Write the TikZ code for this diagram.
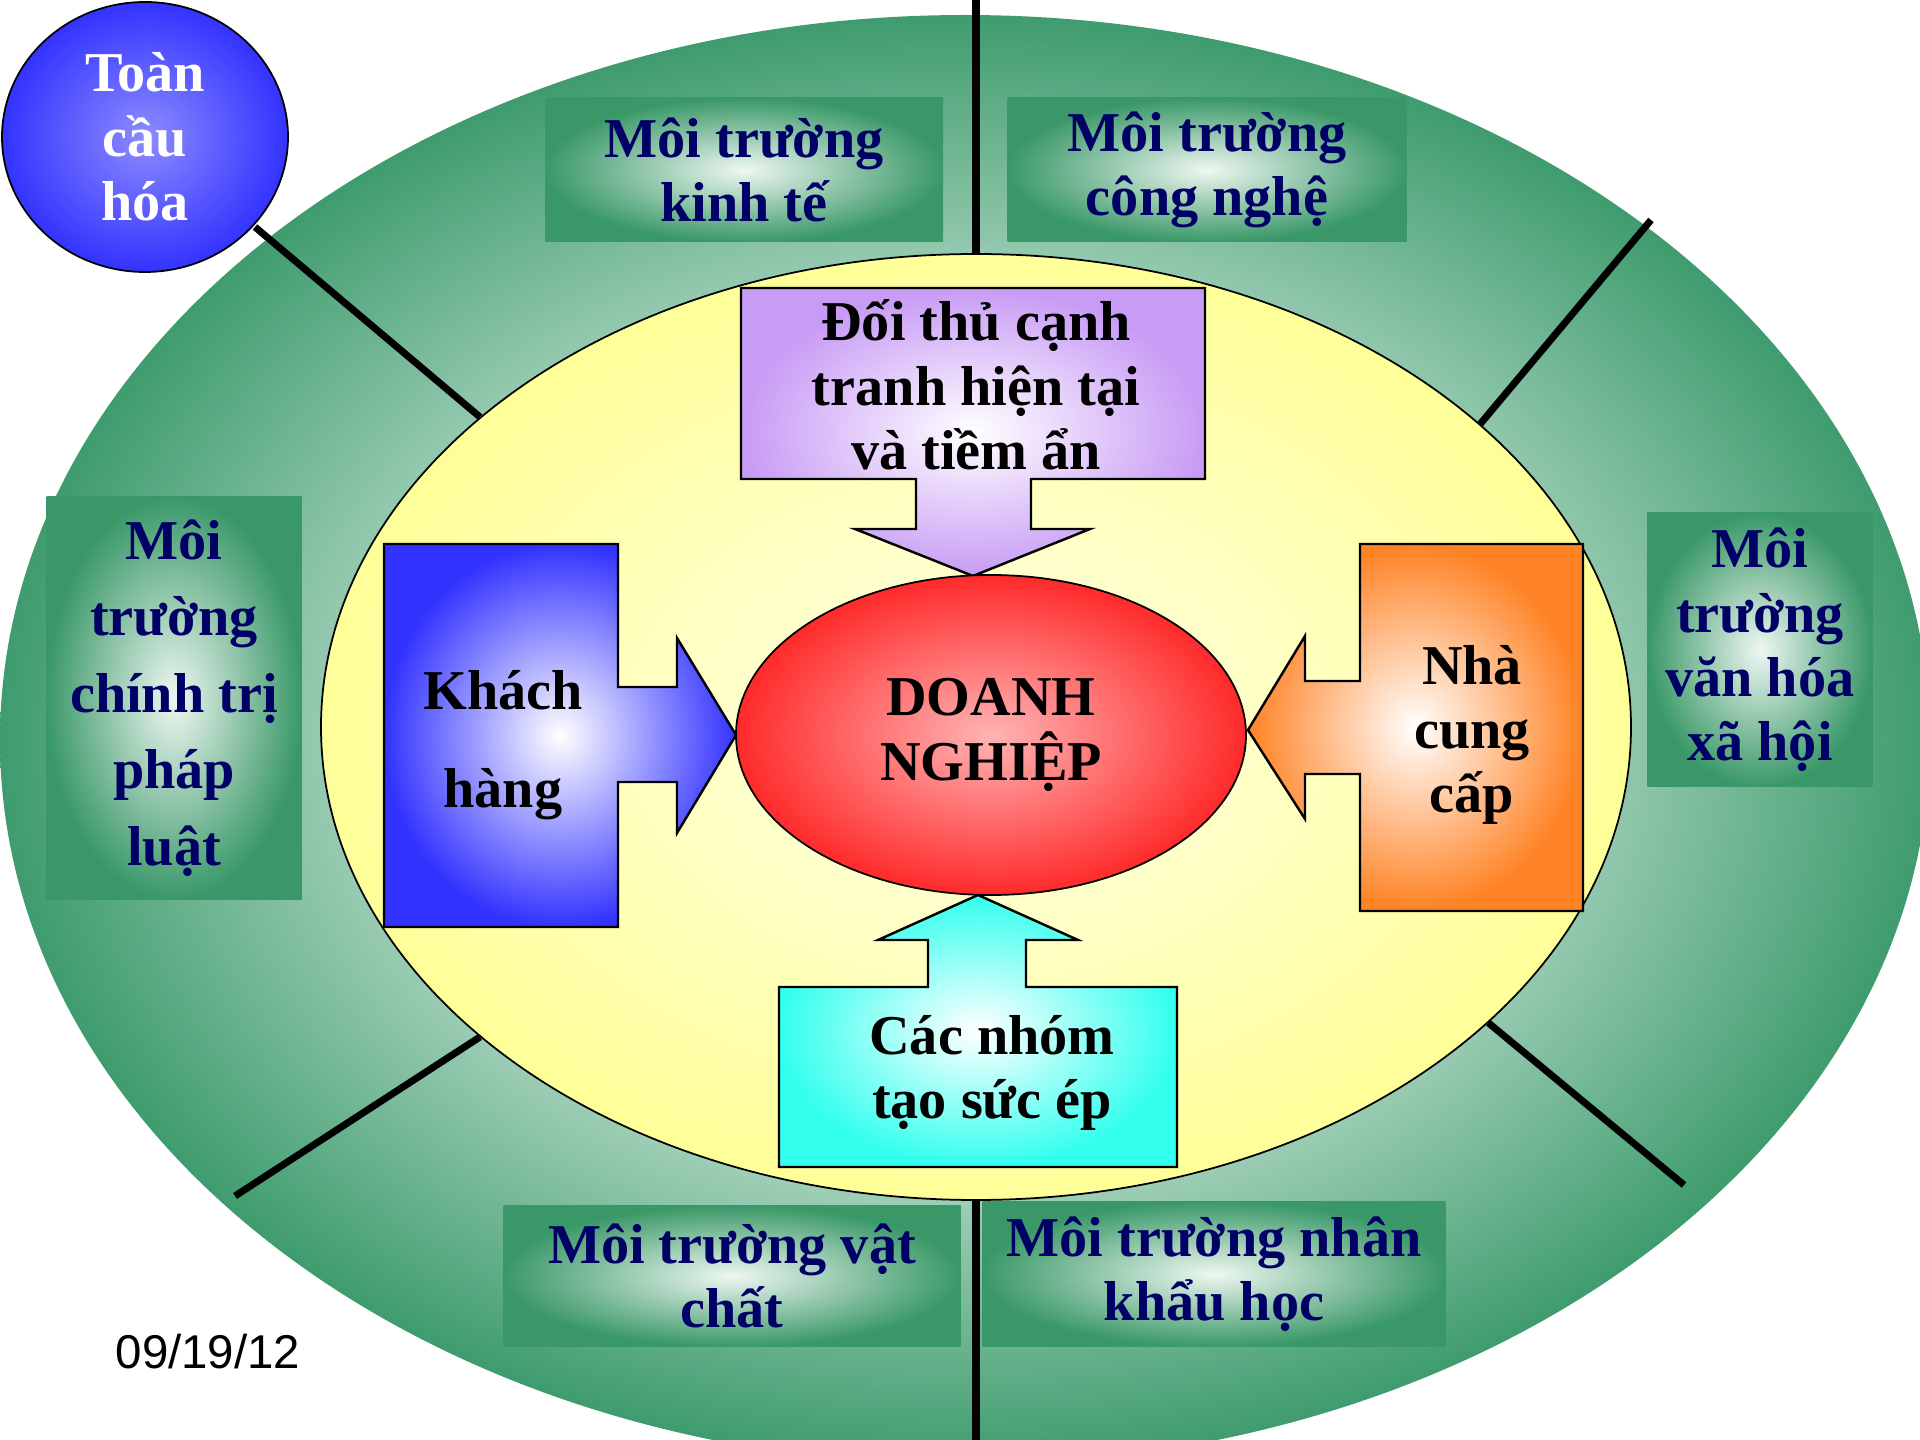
\documentclass[tikz,border=0pt]{standalone}
\usepackage{fontspec}
\setmainfont{Liberation Serif}
\setsansfont{Liberation Sans}
\usepackage{tikz}
\usetikzlibrary{shapes.geometric}
\usepackage{xcolor}
\definecolor{RingDark}{HTML}{3F9C6E}
\definecolor{RingLight}{HTML}{9CCDB5}
\definecolor{BoxEdge}{HTML}{3A9868}
\definecolor{BoxCore}{HTML}{EEF7F2}
\definecolor{Navy}{HTML}{000066}
\definecolor{Lemon}{HTML}{FFFF99}
\definecolor{LemonCore}{HTML}{FFFFE8}
\definecolor{Firm}{HTML}{FF2A2A}
\definecolor{FirmCore}{HTML}{FFB4B4}
\definecolor{Rival}{HTML}{C89BF5}
\definecolor{Client}{HTML}{3333FF}
\definecolor{Supplier}{HTML}{FF8224}
\definecolor{Pressure}{HTML}{33FFEE}
\definecolor{Globe}{HTML}{3333FF}
\definecolor{GlobeCore}{HTML}{8C8CFF}
\pgfdeclareradialshading{ringfade}{\pgfpoint{0bp}{0bp}}{color(0bp)=(RingLight); color(16bp)=(RingLight); color(25bp)=(RingDark); color(50bp)=(RingDark)}

\begin{document}
\begin{tikzpicture}[x=0.1mm, y=-0.1mm, every node/.style={align=center},
  envbox/.style={rectangle, inner color=BoxCore, outer color=BoxEdge, inner sep=1pt, text=Navy, font=\bfseries\fontsize{16}{18.3}\selectfont},
  inword/.style={font=\bfseries\fontsize{16}{18.3}\selectfont, text=black},
  blockarrow/.style={draw=black, line width=.7pt},
  divider/.style={line width=2pt}]
\useasboundingbox (0,0) rectangle (1920,1440);
% rings
\node[ellipse, minimum width=193mm, minimum height=145mm, inner sep=0pt, shade, shading=ringfade] (outer) at (965,740) {};
\node[ellipse, draw, line width=.5pt, minimum width=131mm, minimum height=94.6mm, inner sep=0pt, inner color=LemonCore, outer color=Lemon] (inner) at (976,727) {};
% dividers
\coordinate (topend) at (976,0);
\coordinate (botend) at (976,1440);
\coordinate (nwend) at (255,227);
\coordinate (neend) at (1651,220);
\coordinate (swend) at (235,1196);
\coordinate (seend) at (1684,1185);
\draw[divider] (topend) -- (inner.north);
\draw[divider] (inner.south) -- (botend);
\draw[divider] (nwend) -- (inner.148);
\draw[divider] (neend) -- (inner.31);
\draw[divider] (swend) -- (inner.212);
\draw[divider] (seend) -- (inner.330);
% environment boxes
\node[envbox, minimum width=39.8mm, minimum height=14.4mm] (econ) at (744,170) {Môi trường\\kinh tế};
\node[envbox, minimum width=39.9mm, minimum height=14.4mm] (tech) at (1207,170) {Môi trường\\công nghệ};
\node[envbox, minimum width=25.5mm, minimum height=40.3mm, font=\bfseries\fontsize{16}{21.8}\selectfont] (polit) at (174,698) {Môi\\trường\\chính trị\\pháp\\luật};
\node[envbox, minimum width=22.5mm, minimum height=27.4mm] (cult) at (1760,650) {Môi\\trường\\văn hóa\\xã hội};
\node[envbox, minimum width=45.7mm, minimum height=14.1mm] (phys) at (732,1276) {Môi trường vật\\chất};
\node[envbox, minimum width=46.3mm, minimum height=14.5mm] (demo) at (1214,1274) {Môi trường nhân\\khẩu học};
% block arrows
\draw[blockarrow, inner color=white, outer color=Rival] (741,288) -- (1205,288) -- (1205,479) -- (1031,479) -- (1031,529) -- (1090,529) -- (973,576) -- (855,529) -- (916,529) -- (916,479) -- (741,479) -- cycle;
\draw[blockarrow, inner color=white, outer color=Client] (384,544) -- (618,544) -- (618,687) -- (677,687) -- (677,638) -- (736,735) -- (677,833) -- (677,782) -- (618,782) -- (618,927) -- (384,927) -- cycle;
\draw[blockarrow, inner color=white, outer color=Supplier] (1583,544) -- (1360,544) -- (1360,681) -- (1305,681) -- (1305,636) -- (1248,730) -- (1305,819) -- (1305,774) -- (1360,774) -- (1360,911) -- (1583,911) -- cycle;
\draw[blockarrow, inner color=white, outer color=Pressure] (779,1167) -- (1177,1167) -- (1177,987) -- (1026,987) -- (1026,940) -- (1078,940) -- (978,895) -- (878,940) -- (928,940) -- (928,987) -- (779,987) -- cycle;
% core and globe
\node[ellipse, draw, line width=.5pt, minimum width=51mm, minimum height=32mm, inner sep=0pt, inner color=FirmCore, outer color=Firm, inword] (firm) at (991,735) {DOANH\\NGHIỆP};
\node[ellipse, draw, line width=.5pt, minimum width=28.6mm, minimum height=27mm, inner sep=0pt, inner color=GlobeCore, outer color=Globe, inword, text=white] (globe) at (145,137) {Toàn\\cầu\\hóa};
% forces
\node[inword] (rival) at (976,385) {Đối thủ cạnh\\tranh hiện tại\\và tiềm ẩn};
\node[inword, font=\bfseries\fontsize{16}{28}\selectfont] (client) at (503,745) {Khách\\hàng};
\node[inword] (supplier) at (1472,735) {Nhà\\cung\\cấp};
\node[inword] (pressure) at (992,1073) {Các nhóm\\tạo sức ép};
\node[font=\sffamily\fontsize{13.5}{16}\selectfont] (date) at (208,1352) {09/19/12};
\end{tikzpicture}
\end{document}
